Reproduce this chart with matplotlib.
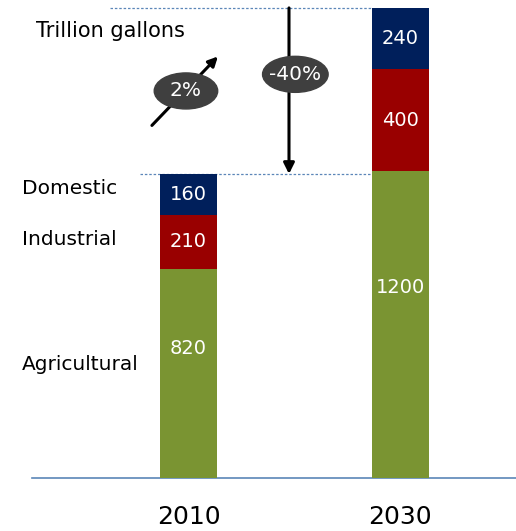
import matplotlib
matplotlib.use('Agg')
import matplotlib.pyplot as plt
from matplotlib.patches import Ellipse
import numpy as np

years = ['2010', '2030']
agricultural = [820, 1200]
industrial = [210, 400]
domestic = [160, 240]
growth_label = '2%'
gap_label = '-40%'

navy = '#001F5B'
red = '#990000'
green = '#7A9432'
line_blue = '#5B86B8'
bubble = '#3F3F3F'

plt.rcParams['font.family'] = 'DejaVu Sans'

fig = plt.figure(figsize=(5.16, 5.31), dpi=100)
ax = fig.add_axes([0, 0, 1, 1])
ax.set_xlim(-0.891, 1.548)
ax.set_ylim(-207.5, 1871)
ax.axis('off')

x = np.arange(len(years))
w = 0.27
agr = np.array(agricultural)
ind = np.array(industrial)
dom = np.array(domestic)

ax.bar(x, agr, w, color=green, zorder=2)
ax.bar(x, ind, w, bottom=agr, color=red, zorder=2)
ax.bar(x, dom, w, bottom=agr + ind, color=navy, zorder=2)
total = agr + ind + dom

# values inside the segments
for i in x:
    ax.text(i, agr[i] * 0.62, str(agr[i]), color='white', fontsize=14,
            ha='center', va='center', zorder=3)
    ax.text(i, agr[i] + ind[i] / 2, str(ind[i]), color='white', fontsize=14,
            ha='center', va='center', zorder=3)
    ax.text(i, agr[i] + ind[i] + dom[i] / 2, str(dom[i]), color='white',
            fontsize=14, ha='center', va='center', zorder=3)

# baseline and year labels
ax.plot([-0.74, 1.55], [0, 0], color=line_blue, lw=1.2, zorder=1)
for i, yr in zip(x, years):
    ax.text(i, -200, yr, fontsize=18, ha='center', va='bottom')

# category names next to the 2010 bar
ax.text(-0.787, agr[0] + ind[0] + dom[0] / 2 + 25, 'Domestic', fontsize=14.5,
        ha='left', va='center')
ax.text(-0.787, agr[0] + ind[0] / 2 + 10, 'Industrial', fontsize=14.5,
        ha='left', va='center')
ax.text(-0.787, agr[0] * 0.54, 'Agricultural', fontsize=14.5,
        ha='left', va='center')

ax.text(-0.72, total[1] - 90, 'Trillion gallons', fontsize=15,
        ha='left', va='center')

# reference lines at both totals
ax.plot([-0.371, 1 - w / 2], [total[1], total[1]], color=line_blue, lw=0.9,
        ls=(0, (2, 1.5)), zorder=1)
ax.plot([-0.229, 1 - w / 2], [total[0], total[0]], color=line_blue, lw=0.9,
        ls=(0, (2, 1.5)), zorder=1)

# gap arrow
gx = 0.475
ax.annotate('', xy=(gx, total[0]), xytext=(gx, total[1]),
            arrowprops=dict(arrowstyle='-|>', color='black', lw=2.2,
                            mutation_scale=16, shrinkA=0, shrinkB=0), zorder=4)
gy = total[1] - 0.4 * (total[1] - total[0])
ax.add_patch(Ellipse((gx + 0.03, gy), 0.31, 141, color=bubble, zorder=5))
ax.text(gx + 0.03, gy, gap_label, color='white', fontsize=14.5,
        ha='center', va='center', zorder=6)

# growth arrow
ax.annotate('', xy=(0.139, 1650), xytext=(-0.173, 1380),
            arrowprops=dict(arrowstyle='-|>', color='black', lw=2.2,
                            mutation_scale=14, shrinkA=0, shrinkB=0), zorder=4)
ax.add_patch(Ellipse((-0.012, 1515), 0.30, 141, color=bubble, zorder=5))
ax.text(-0.012, 1515, growth_label, color='white', fontsize=14.5,
        ha='center', va='center', zorder=6)

fig.savefig('out.png', dpi=100)
